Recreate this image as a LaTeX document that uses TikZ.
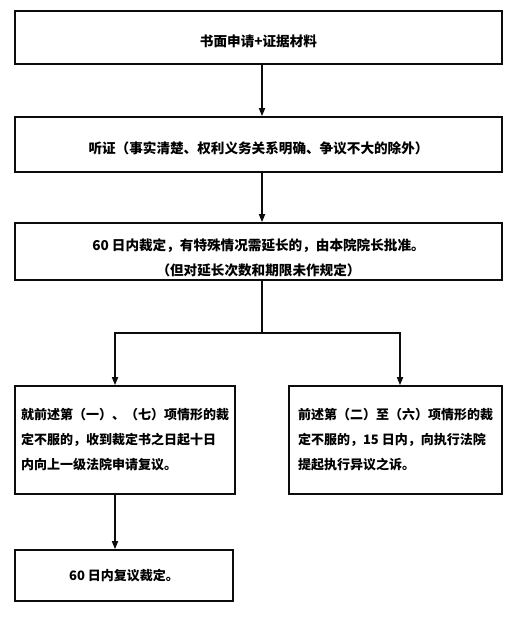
\documentclass[tikz,border=0pt]{standalone}
\usepackage{fontspec}
\usepackage{tikz}
\usetikzlibrary{calc, positioning, arrows.meta}
\newfontfamily\cjk{Noto Sans CJK SC}
\definecolor{boxline}{RGB}{12, 12, 12}

\begin{document}
\begin{tikzpicture}[x=1pt, y=-1pt, >={Triangle[length=8pt, width=6pt]},
  font=\cjk\bfseries\fontsize{13}{25}\selectfont,
  stepbox/.style={draw=boxline, line width=1.6pt, inner sep=0pt},
  widebox/.style={stepbox, minimum width=487pt, font=\cjk\bfseries\fontsize{13.6}{25}\selectfont},
  lowtext/.style={text height=20pt, text depth=2pt},
  flow/.style={->, line width=1.6pt, draw=boxline}]
  \useasboundingbox (0,0) rectangle (515,617);

  % Main column
  \node[widebox, lowtext, minimum height=53pt] (apply) at (258.5,37.5)
    {书面申请+证据材料};
  \node[widebox, lowtext, minimum height=55pt] (hear) at (258.5,144.5)
    {听证（事实清楚、权利义务关系明确、争议不大的除外）};
  \node[widebox, minimum height=57pt, align=center, text height=49pt] (rule) at (258.5,251.5)
    {60 日内裁定，有特殊情况需延长的，由本院院长批准。\\（但对延长次数和期限未作规定）};

  % Two branches
  \node[stepbox, minimum width=220pt, minimum height=108pt, align=left] (left) at (125,440)
    {就前述第（一）、（七）项情形的裁\\定不服的，收到裁定书之日起十日\\内向上一级法院申请复议。};
  \node[stepbox, minimum width=213pt, minimum height=108pt, align=left] (right) at (395.5,440)
    {前述第（二）至（六）项情形的裁\\定不服的，15 日内，向执行法院\\提起执行异议之诉。};
  \node[stepbox, minimum width=218pt, minimum height=51pt] (recon) at (124,575.5)
    {60 日内复议裁定。};

  % Connectors
  \coordinate (fork) at (262,333);
  \coordinate (forkL) at (115,333);
  \coordinate (forkR) at (400,333);
  \draw[flow] ([xshift=3.5pt]apply.south) -- ([xshift=3.5pt]hear.north);
  \draw[flow] ([xshift=3.5pt]hear.south) -- ([xshift=3.5pt]rule.north);
  \draw[line width=1.6pt, draw=boxline] ([xshift=3.5pt]rule.south) -- (fork);
  \draw[flow] (fork) -| (forkL |- left.north);
  \draw[flow] (fork) -| (forkR |- right.north);
  \draw[flow] (forkL |- left.south) -- (forkL |- recon.north);
\end{tikzpicture}
\end{document}
